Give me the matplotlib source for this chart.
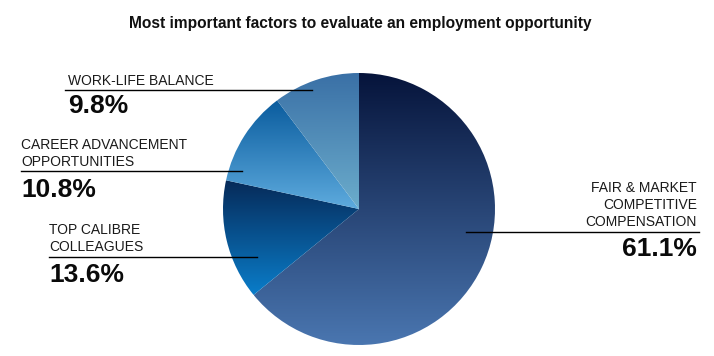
import numpy as np
import matplotlib
matplotlib.use("Agg")
import matplotlib.pyplot as plt
from matplotlib.colors import LinearSegmentedColormap

title = "Most important factors to evaluate an employment opportunity"
categories = ["FAIR & MARKET\nCOMPETITIVE\nCOMPENSATION",
              "TOP CALIBRE\nCOLLEAGUES",
              "CAREER ADVANCEMENT\nOPPORTUNITIES",
              "WORK-LIFE BALANCE"]
values = [61.1, 13.6, 10.8, 9.8]
value_labels = ["61.1%", "13.6%", "10.8%", "9.8%"]

# gradient (top colour, bottom colour) per slice
grad_colors = [("#06143b", "#4a76b0"),
               ("#062a58", "#0a7dca"),
               ("#0a5c9e", "#5eabde"),
               ("#3a70a6", "#6cadcc")]

W, H = 714, 356
fig = plt.figure(figsize=(W / 100, H / 100), dpi=100)
fig.patch.set_facecolor("white")

cx, cy, R = 359, 209, 136
ax = fig.add_axes([(cx - R) / W, (H - cy - R) / H, 2 * R / W, 2 * R / H])
wedges, _ = ax.pie(values, startangle=90, counterclock=False, radius=1,
                   wedgeprops=dict(linewidth=0))
ax.set_xlim(-1, 1)
ax.set_ylim(-1, 1)
ax.set_aspect("equal")
ax.axis("off")

for w, (c1, c2) in zip(wedges, grad_colors):
    t = np.radians(np.linspace(w.theta1, w.theta2, 200))
    ys = np.concatenate([[w.center[1]], w.center[1] + w.r * np.sin(t)])
    xs = np.concatenate([[w.center[0]], w.center[0] + w.r * np.cos(t)])
    cmap = LinearSegmentedColormap.from_list("g", [c1, c2])
    grad = np.linspace(0, 1, 256).reshape(-1, 1)
    im = ax.imshow(grad, cmap=cmap, aspect="auto", origin="upper",
                   extent=[xs.min(), xs.max(), ys.min(), ys.max()],
                   interpolation="bilinear")
    w.set_facecolor("none")
    im.set_clip_path(w)
ax.set_xlim(-1, 1)
ax.set_ylim(-1, 1)

ov = fig.add_axes([0, 0, 1, 1], zorder=5)
ov.set_xlim(0, W)
ov.set_ylim(H, 0)
ov.axis("off")
ov.patch.set_alpha(0)

font = "Liberation Sans"
ov.text(360, 28, title, ha="center", va="baseline", fontsize=11.2,
        fontweight="bold", family=font, color="#111111")

# label layout: (x, baseline of first label line, line y, line x0, line x1, pct baseline, ha)
layout = [
    (697, 192, 232, 466, 699, 256, "right"),
    (49, 234, 257, 49, 257, 282, "left"),
    (21, 149, 171, 21, 242, 197, "left"),
    (68, 85, 90, 65, 312, 113, "left"),
]
for cat, lab, (x, yb, ly, lx0, lx1, py, ha) in zip(categories, value_labels, layout):
    for i, line in enumerate(cat.split("\n")):
        ov.text(x, yb + i * 16.8, line, ha=ha, va="baseline", fontsize=10,
                family=font, color="#1a1a1a")
    ov.plot([lx0, lx1], [ly, ly], color="black", lw=1)
    ov.text(x, py, lab, ha=ha, va="baseline", fontsize=19, fontweight="bold",
            family=font, color="#0a0a0a")

fig.savefig("out.png", dpi=100)
